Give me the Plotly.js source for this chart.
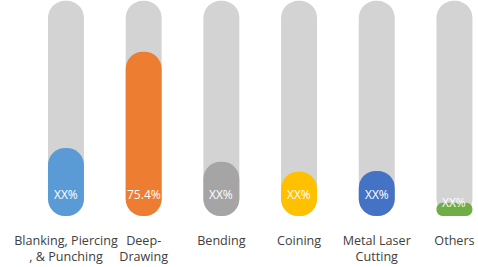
<!DOCTYPE html>
<html>
<head>
<meta charset="utf-8">
<script src="https://cdn.plot.ly/plotly-3.0.1.min.js"></script>
<style>html,body{margin:0;padding:0;background:#fff;}#chart{width:478px;height:267px;}</style>
</head>
<body>
<div id="chart"></div>
<script>
var categories = ["Blanking, Piercing<br>, & Punching", "Deep-<br>Drawing", "Bending", "Coining", "Metal Laser<br>Cutting", "Others"];
var values = [31.2, 75.4, 24.9, 20.3, 20.7, 6.1];
var labels = ["XX%", "75.4%", "XX%", "XX%", "XX%", "XX%"];
var colors = ["#5B9BD5", "#ED7D31", "#A5A5A5", "#FFC000", "#4472C4", "#70AD47"];
var trackValue = 98.7;
var trackColor = "#D3D3D3";

var xs = categories.map(function(_, i){ return i; });
var barW = 0.463;

function pillTrace(vals, cols) {
  return {
    type: "bar", x: xs, base: xs.map(function(){ return 0; }),
    y: vals, width: barW, marker: {color: cols, cornerradius: "50%"},
    hoverinfo: "skip", showlegend: false
  };
}

var traces = [
  pillTrace(xs.map(function(){ return trackValue; }), xs.map(function(){ return trackColor; })),
  pillTrace(values, colors)
];

var annotations = xs.map(function(i){
  return {
    x: i, y: Math.min(10, values[i]), xref: "x", yref: "y",
    text: labels[i], showarrow: false, yanchor: "middle", xanchor: "center",
    font: {family: "Open Sans", size: 12, color: "#FFFFFF"}
  };
});

var layout = {
  width: 478, height: 267,
  margin: {l: 0, r: 0, t: 0, b: 51},
  paper_bgcolor: "#FFFFFF", plot_bgcolor: "#FFFFFF",
  barmode: "overlay",
  showlegend: false,
  xaxis: {
    range: [-0.849, 5.303], tickvals: xs, ticktext: categories,
    showgrid: false, zeroline: false, showline: false, ticks: "",
    tickangle: 0, automargin: false,
    ticklabelstandoff: 15,
    tickfont: {family: "Open Sans", size: 12.6, color: "#404040"}
  },
  yaxis: {
    range: [0, 99.1], visible: false, showgrid: false, zeroline: false
  },
  annotations: annotations
};

Plotly.newPlot("chart", traces, layout, {displayModeBar: false, staticPlot: true});
</script>
</body>
</html>
